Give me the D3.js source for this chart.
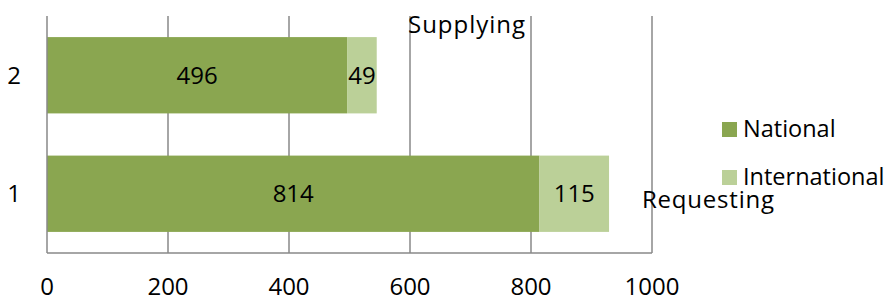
<!DOCTYPE html>
<html>
<head>
<meta charset="utf-8">
<script src="https://cdn.jsdelivr.net/npm/d3@7"></script>
<style>
  body { margin: 0; background: #fff; }
  text { font-family: "Open Sans", sans-serif; fill: #000; }
</style>
</head>
<body>
<div id="graph"></div>
<script>
// data
let categories = ["1", "2"];
let national = [814, 496];
let international = [115, 49];
let seriesNames = ["National", "International"];
let xTicks = [0, 200, 400, 600, 800, 1000];
let colors = ["#8aa650", "#bbd098"];

let margin = { top: 16, right: 240, bottom: 45, left: 47 },
    width = 892 - margin.left - margin.right,
    height = 298 - margin.top - margin.bottom;

let svg = d3.select("#graph")
    .append("svg")
    .attr("width", 892)
    .attr("height", 298);

let g = svg.append("g")
    .attr("transform", "translate(" + margin.left + "," + margin.top + ")");

let x = d3.scaleLinear()
    .domain([0, 1000])
    .range([0, width]);

// category 1 at bottom
let y = d3.scaleBand()
    .domain(categories.slice().reverse())
    .range([0, height])
    .paddingInner(0.356)
    .paddingOuter(0.178);

// gridlines
g.append("g")
    .selectAll("line")
    .data(xTicks.slice(1))
    .enter()
    .append("line")
    .attr("x1", d => x(d))
    .attr("x2", d => x(d))
    .attr("y1", 0)
    .attr("y2", height)
    .attr("stroke", "#888")
    .attr("stroke-width", 1.5);

// stacked bars
let rows = categories.map((c, i) => ({ cat: c, nat: national[i], intl: international[i] }));

let bars = g.append("g").selectAll("g")
    .data(rows)
    .enter()
    .append("g");

bars.append("rect")
    .attr("x", x(0))
    .attr("y", d => y(d.cat))
    .attr("width", d => x(d.nat) - x(0))
    .attr("height", y.bandwidth())
    .attr("fill", colors[0]);

bars.append("rect")
    .attr("x", d => x(d.nat))
    .attr("y", d => y(d.cat))
    .attr("width", d => x(d.nat + d.intl) - x(d.nat))
    .attr("height", y.bandwidth())
    .attr("fill", colors[1]);

bars.append("text")
    .attr("x", d => (x(0) + x(d.nat)) / 2)
    .attr("y", d => y(d.cat) + y.bandwidth() / 2)
    .attr("dy", "0.36em")
    .attr("text-anchor", "middle")
    .style("font-size", "24px")
    .text(d => d.nat);

bars.append("text")
    .attr("x", d => (x(d.nat) + x(d.nat + d.intl)) / 2)
    .attr("y", d => y(d.cat) + y.bandwidth() / 2)
    .attr("dy", "0.36em")
    .attr("text-anchor", "middle")
    .style("font-size", "24px")
    .text(d => d.intl);

// axes lines
g.append("line")
    .attr("x1", 0).attr("x2", 0)
    .attr("y1", 0).attr("y2", height)
    .attr("stroke", "#888").attr("stroke-width", 1.5);
g.append("line")
    .attr("x1", 0).attr("x2", width)
    .attr("y1", height).attr("y2", height)
    .attr("stroke", "#888").attr("stroke-width", 1.5);

// x tick labels
g.append("g")
    .selectAll("text")
    .data(xTicks)
    .enter()
    .append("text")
    .attr("x", d => x(d))
    .attr("y", height + 42)
    .attr("text-anchor", "middle")
    .style("font-size", "24px")
    .text(d => d);

// category labels
g.append("g")
    .selectAll("text")
    .data(categories)
    .enter()
    .append("text")
    .attr("x", -33)
    .attr("y", d => y(d) + y.bandwidth() / 2)
    .attr("dy", "0.36em")
    .attr("text-anchor", "middle")
    .style("font-size", "24px")
    .text(d => d);

// floating labels
svg.append("text")
    .attr("x", 408)
    .attr("y", 33)
    .attr("textLength", 117)
    .style("font-size", "24px")
    .text("Supplying");

svg.append("text")
    .attr("x", 642)
    .attr("y", 208)
    .attr("textLength", 132)
    .style("font-size", "24px")
    .text("Requesting");

// legend
let legend = svg.append("g")
    .selectAll("g")
    .data(seriesNames)
    .enter()
    .append("g")
    .attr("transform", (d, i) => "translate(722," + (122 + i * 48) + ")");

legend.append("rect")
    .attr("width", 15)
    .attr("height", 15)
    .attr("fill", (d, i) => colors[i]);

legend.append("text")
    .attr("x", 21)
    .attr("y", 15)
    .style("font-size", "23.5px")
    .text(d => d);
</script>
</body>
</html>
